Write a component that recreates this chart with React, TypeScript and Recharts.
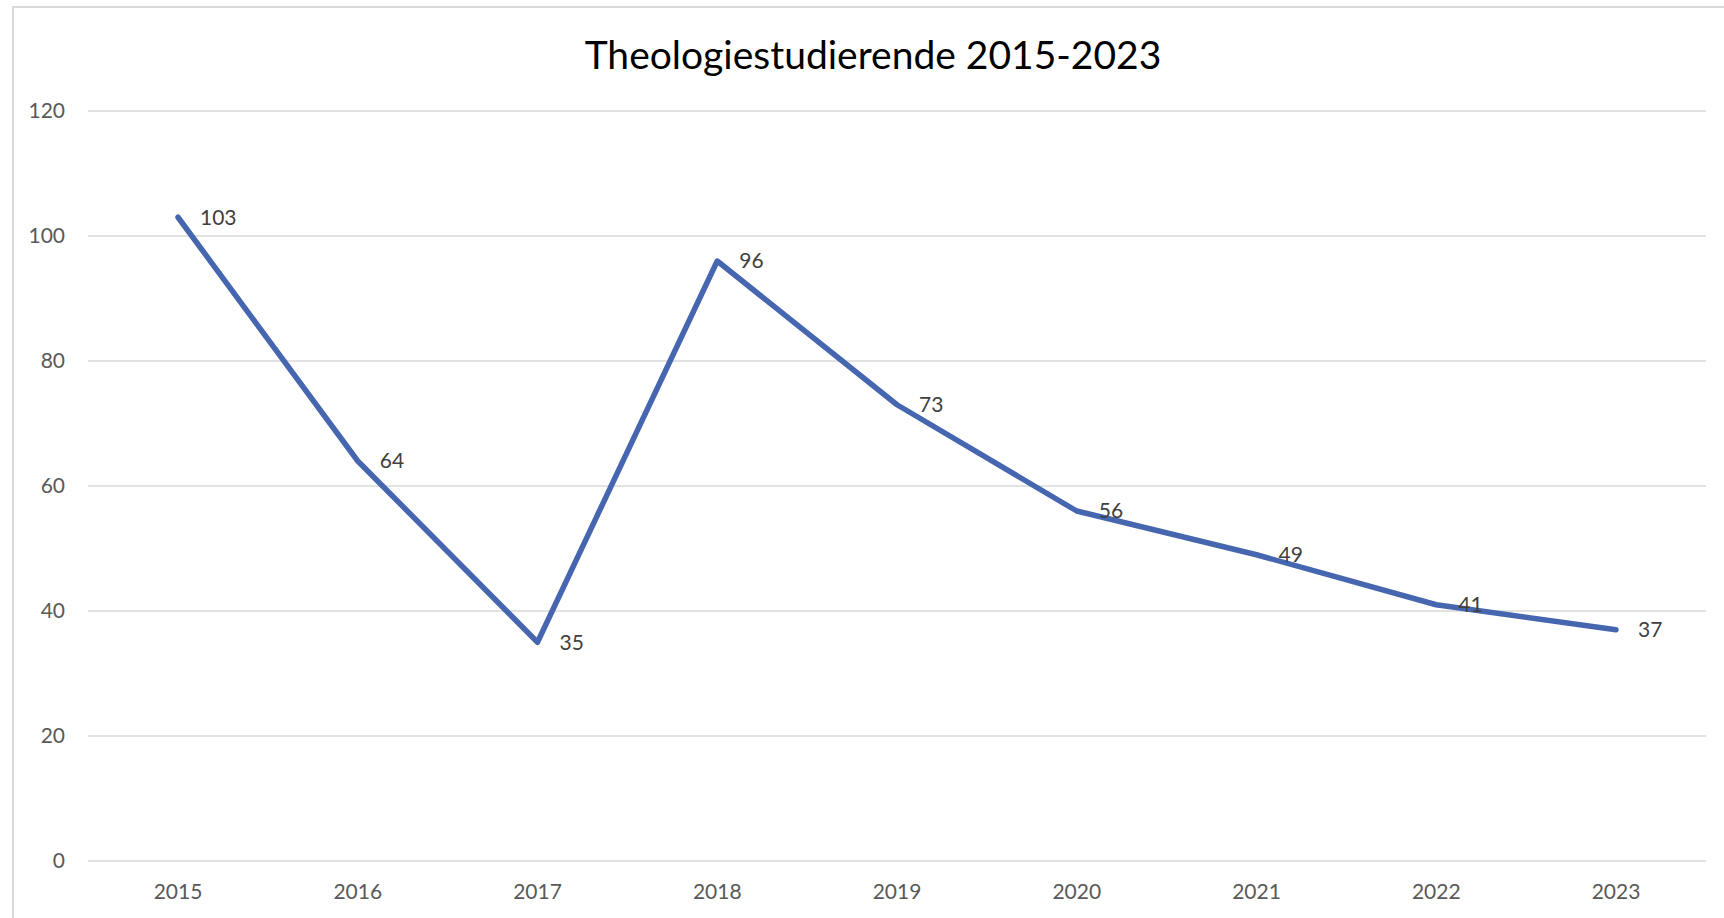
import React from 'react'
import { LineChart, Line, XAxis, YAxis, CartesianGrid, LabelList } from 'recharts'

const years = ['2015', '2016', '2017', '2018', '2019', '2020', '2021', '2022', '2023']
const students = [103, 64, 35, 96, 73, 56, 49, 41, 37]
const yTicks = [0, 20, 40, 60, 80, 100, 120]

const data = years.map((year, i) => ({ year, students: students[i] }))

const font = 'Lato, "Noto Sans", sans-serif'

export default function App() {
  return (
    <div style={{ position: 'relative', width: 1724, height: 918, background: '#fff', overflow: 'hidden', fontFamily: font }}>
      <style>{`body { margin: 0; }`}</style>
      <div
        style={{
          position: 'absolute',
          left: 12,
          top: 6,
          width: 1800,
          height: 1000,
          borderLeft: '2px solid #D9D9D9',
          borderTop: '2px solid #D9D9D9',
        }}
      />
      <div
        style={{
          position: 'absolute',
          left: 373,
          width: 1000,
          top: 29,
          textAlign: 'center',
          fontSize: 39,
          color: '#000',
          lineHeight: '50px',
        }}
      >
        Theologiestudierende 2015-2023
      </div>
      <div style={{ position: 'absolute', left: 0, top: 0 }}>
        <LineChart width={1724} height={918} data={data} margin={{ top: 111, right: 18, bottom: 0, left: 0 }}>
          <CartesianGrid vertical={false} stroke="#D9D9D9" strokeWidth={1.5} />
          <XAxis
            dataKey="year"
            height={57}
            axisLine={false}
            tickLine={false}
            tickSize={0}
            tickMargin={23}
            padding={{ left: 90, right: 90 }}
            tick={{ fill: '#595959', fontSize: 21, fontFamily: font }}
            interval={0}
          />
          <YAxis
            width={88}
            domain={[0, 120]}
            ticks={yTicks}
            axisLine={false}
            tickLine={false}
            tickSize={0}
            tickMargin={23}
            tick={{ fill: '#595959', fontSize: 21, fontFamily: font }}
          />
          <Line
            type="linear"
            dataKey="students"
            stroke="#4666B0"
            strokeWidth={5.5}
            strokeLinecap="round"
            strokeLinejoin="round"
            dot={false}
            isAnimationActive={false}
          >
            <LabelList dataKey="students" position="right" offset={22} fill="#404040" fontSize={21} fontFamily={font} />
          </Line>
        </LineChart>
      </div>
    </div>
  )
}
